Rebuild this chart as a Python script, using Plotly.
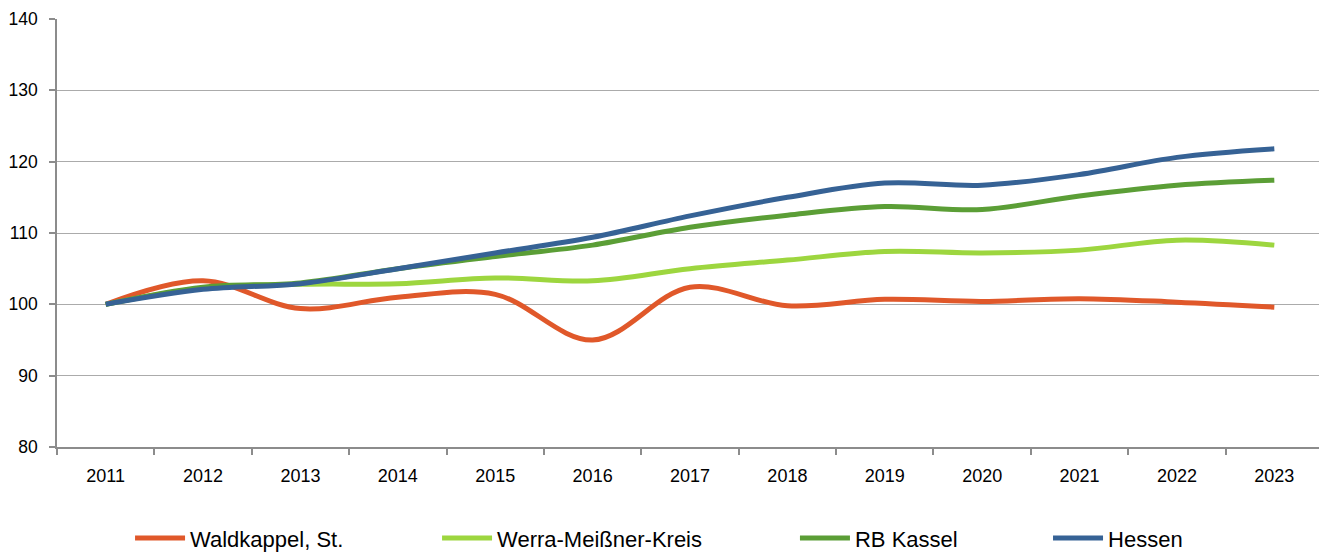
import plotly.graph_objects as go

years = ["2011", "2012", "2013", "2014", "2015", "2016", "2017", "2018", "2019", "2020", "2021", "2022", "2023"]
waldkappel = [100.0, 103.3, 99.4, 101.0, 101.4, 95.0, 102.4, 99.8, 100.7, 100.4, 100.8, 100.3, 99.6]
werra = [100.0, 102.3, 102.8, 102.9, 103.7, 103.3, 105.0, 106.2, 107.4, 107.2, 107.6, 109.0, 108.3]
rb_kassel = [100.0, 102.4, 103.0, 105.0, 106.7, 108.3, 110.8, 112.5, 113.7, 113.3, 115.2, 116.7, 117.4]
hessen = [100.0, 102.1, 102.9, 105.0, 107.2, 109.4, 112.4, 115.0, 117.0, 116.7, 118.2, 120.6, 121.8]

series = [
    ("Waldkappel, St.", waldkappel, "#E0582A", "legend", 0.0577),
    ("Werra-Meißner-Kreis", werra, "#9DD63F", "legend2", 0.3002),
    ("RB Kassel", rb_kassel, "#5B9E36", "legend3", 0.5829),
    ("Hessen", hessen, "#366295", "legend4", 0.7828),
]

FONT = "Liberation Sans, Arial, sans-serif"

fig = go.Figure()
for name, vals, color, lg, _x in series:
    fig.add_trace(go.Scatter(
        x=years, y=vals, name=name, mode="lines",
        line=dict(color=color, width=5, shape="spline", smoothing=1.0),
        legend=lg,
    ))

legend_common = dict(orientation="h", xref="paper", yref="paper", yanchor="middle",
                     y=-0.213, xanchor="left", bgcolor="rgba(0,0,0,0)",
                     font=dict(family=FONT, size=22, color="#000000"), itemwidth=50)
layout_legends = {}
for name, vals, color, lg, xpos in series:
    layout_legends[lg] = dict(legend_common, x=xpos)

fig.update_layout(
    template="none",
    width=1319, height=548,
    margin=dict(l=49, r=4, t=11, b=109, autoexpand=False),
    paper_bgcolor="white", plot_bgcolor="white",
    font=dict(family=FONT, size=18, color="#000000"),
    showlegend=True,
    xaxis=dict(
        type="category", range=[-0.5, 12.5], automargin=False,
        showgrid=False, showline=True, linecolor="#8C8C8C", linewidth=1.5,
        ticks="outside", tickson="boundaries", ticklen=6, tickcolor="#8C8C8C", tickwidth=1.5,
        ticklabelstandoff=12, tickfont=dict(family=FONT, size=18),
    ),
    yaxis=dict(
        range=[80, 140], dtick=10, tick0=80, automargin=False,
        showgrid=True, gridcolor="#ABABAB", gridwidth=1.3,
        showline=True, linecolor="#8C8C8C", linewidth=1.5,
        ticks="outside", ticklen=6, tickcolor="#8C8C8C", tickwidth=1.5,
        ticklabelstandoff=8, tickfont=dict(family=FONT, size=17.5),
        zeroline=False,
    ),
    **layout_legends,
)

fig.write_html("out.html")
